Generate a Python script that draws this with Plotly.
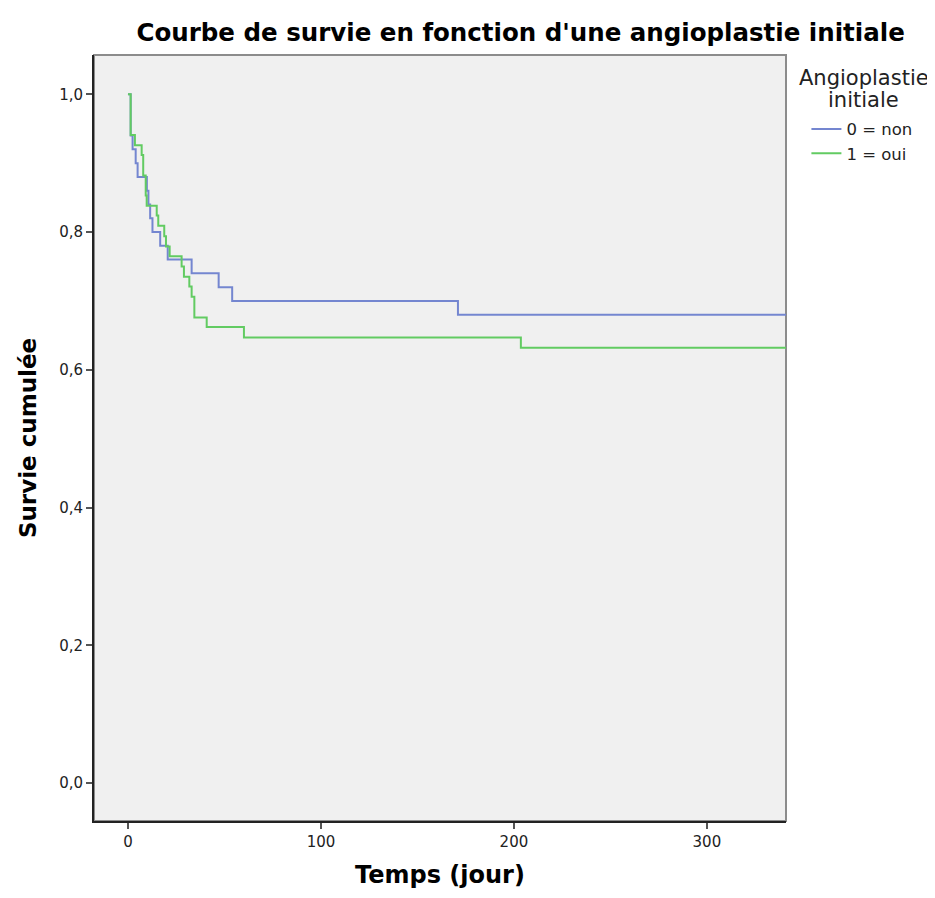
import plotly.graph_objects as go

# Kaplan-Meier step data (days, cumulative survival)
non_times = [0, 1.4, 2.4, 4, 5, 9.8, 10.6, 11.5, 12.7, 16.7, 20.6, 33, 47, 54, 171, 350]
non_surv = [1.0, 0.94, 0.92, 0.90, 0.88, 0.86, 0.84, 0.82, 0.80, 0.78, 0.76, 0.74, 0.72, 0.70, 0.68, 0.68]

oui_times = [0, 1.4, 3.6, 7.1, 7.9, 9.2, 9.7, 14.9, 15.7, 18.8, 19.7, 21.6, 27.8, 29, 31.8, 33, 34.4,
             40.8, 60.1, 203.6, 350]
oui_surv = [1.0, 0.941, 0.926, 0.912, 0.882, 0.853, 0.838, 0.824, 0.809, 0.794, 0.779, 0.765, 0.750,
            0.735, 0.721, 0.706, 0.676, 0.662, 0.647, 0.632, 0.632]

series_names = ["0 = non", "1 = oui"]
legend_title_lines = ["Angioplastie", "initiale"]
x_ticks = [0, 100, 200, 300]
y_ticks = [0.0, 0.2, 0.4, 0.6, 0.8, 1.0]

fig = go.Figure()
fig.add_trace(go.Scatter(x=non_times, y=non_surv, mode="lines", line_shape="hv",
                         line=dict(color="#7486d0", width=2), name=series_names[0]))
fig.add_trace(go.Scatter(x=oui_times, y=oui_surv, mode="lines", line_shape="hv",
                         line=dict(color="#62cb62", width=2), name=series_names[1]))

fig.update_layout(
    width=927, height=890,
    margin=dict(l=86, r=149, t=47, b=77),
    paper_bgcolor="white", plot_bgcolor="#f0f0f0",
    separators=", ",
    font=dict(family="DejaVu Sans", color="#222"),
    title=dict(text="<b>Courbe de survie en fonction d'une angioplastie initiale</b>",
               x=0.553, xanchor="center", y=0.973, yanchor="middle",
               font=dict(size=24.5, color="black", family="DejaVu Sans")),
    showlegend=True,
    legend=dict(x=1.0295, xanchor="left", y=0.926, yanchor="top",
                font=dict(size=16.5, color="#222"), bgcolor="rgba(0,0,0,0)",
                itemwidth=30, tracegroupgap=0),
    annotations=[
        dict(text=legend_title_lines[0], xref="paper", yref="paper", x=1.112, y=0.970,
             xanchor="center", yanchor="middle", showarrow=False, font=dict(size=21, color="#222")),
        dict(text=legend_title_lines[1], xref="paper", yref="paper", x=1.112, y=0.941,
             xanchor="center", yanchor="middle", showarrow=False, font=dict(size=21, color="#222")),
    ],
    shapes=[dict(type="rect", xref="paper", yref="paper", x0=0, y0=0, x1=1, y1=1,
                 line=dict(color="#8c8c8c", width=2), layer="below")],
)
fig.update_xaxes(range=[-17.6, 341], tickvals=x_ticks, ticks="outside", ticklen=6, tickwidth=2,
                 tickcolor="#555", showgrid=False, zeroline=False, showline=True, linecolor="#222",
                 linewidth=2, tickfont=dict(size=15, color="#222"),
                 title=dict(text="<b>Temps (jour)</b>", font=dict(size=24, color="black"), standoff=16))
fig.update_yaxes(range=[-0.055, 1.057], tickvals=y_ticks, tickformat=".1f", ticks="outside", ticklen=6,
                 tickwidth=2, tickcolor="#555", showgrid=False, zeroline=False, showline=True,
                 linecolor="#222", linewidth=2, tickfont=dict(size=15, color="#222"),
                 title=dict(text="<b>Survie cumulée</b>", font=dict(size=23, color="black"), standoff=16))

fig.write_html("out.html")
